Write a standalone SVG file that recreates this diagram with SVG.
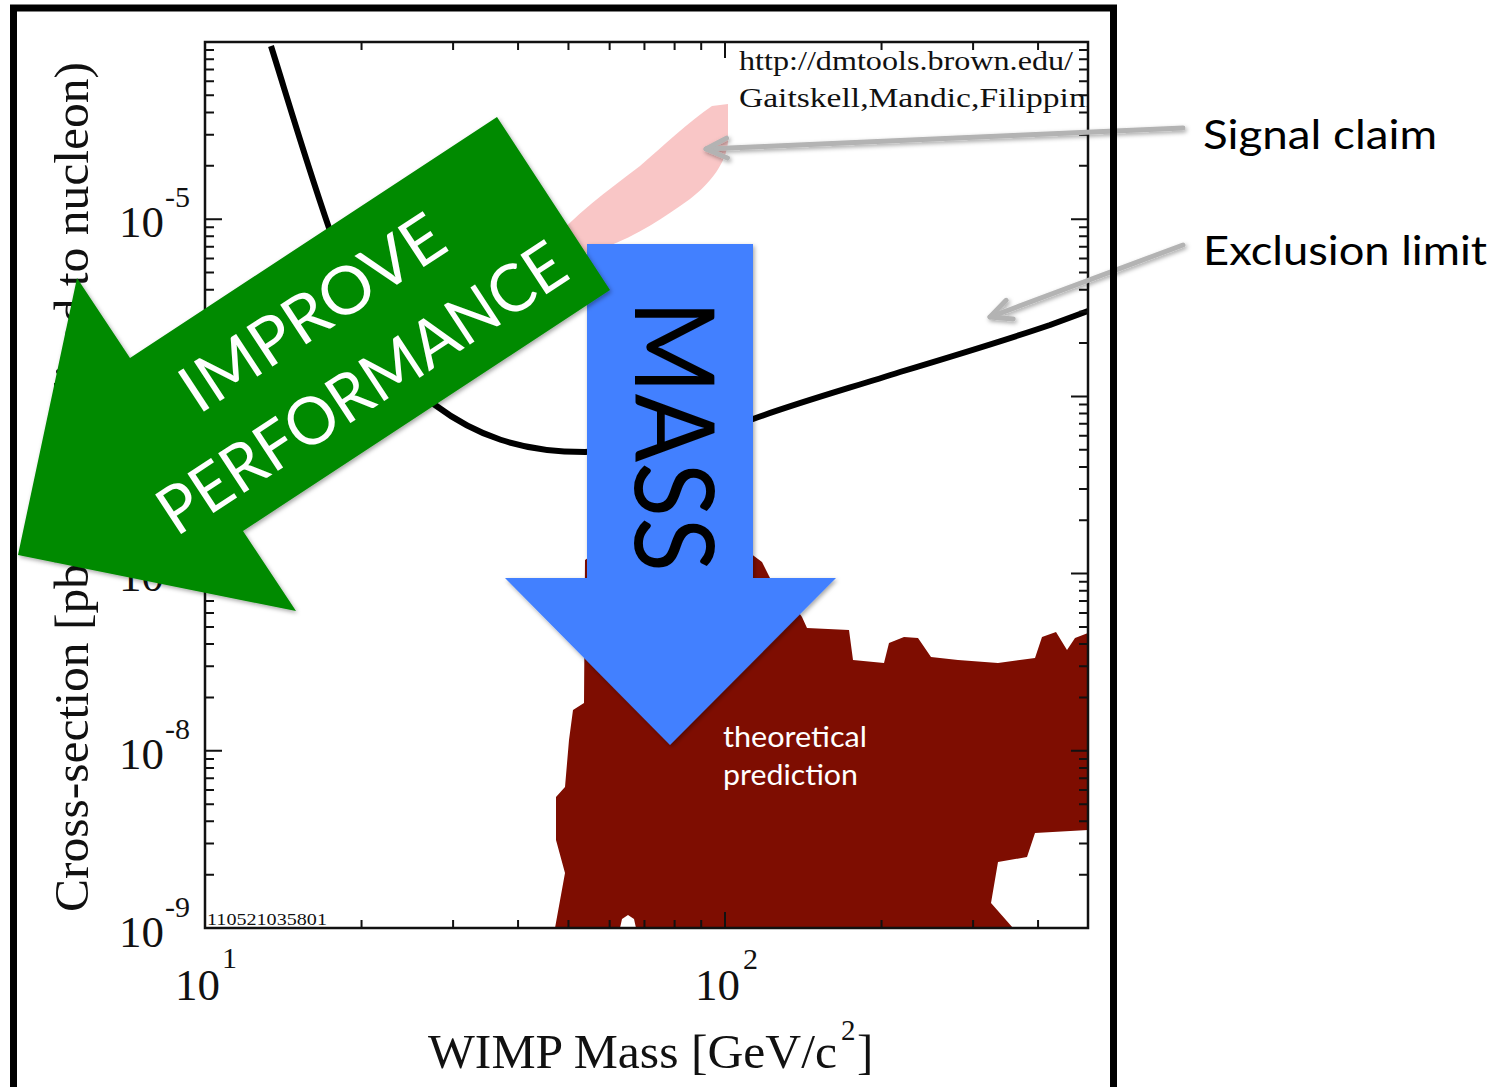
<svg xmlns="http://www.w3.org/2000/svg" xmlns:xlink="http://www.w3.org/1999/xlink" width="1506" height="1087" viewBox="0 0 1506 1087">
  <style>
    .serif { font-family: "Liberation Serif", "Times New Roman", serif; fill: #111; }
    .sans { font-family: Lato, "Open Sans", "Noto Sans", sans-serif; }
    .tick { stroke: #111; stroke-width: 2; fill: none; }
    .axis { stroke: #111; stroke-width: 2.5; fill: none; }
    .pointer { stroke: #b3b3b3; stroke-width: 5; fill: none; stroke-linecap: round; }
  </style>
  <defs>
    <clipPath id="plotArea">
      <rect x="205" y="42" width="883" height="886"/>
    </clipPath>
    <filter id="shadow" x="-10%" y="-10%" width="125%" height="125%">
      <feDropShadow dx="1.5" dy="2" stdDeviation="2" flood-color="#000" flood-opacity="0.35"/>
    </filter>
    <marker id="chevron" markerUnits="userSpaceOnUse" viewBox="-26 -16 30 32" markerWidth="30" markerHeight="32" refX="0" refY="0" orient="auto">
      <path d="M-21,-10 L0,0 L-21,10" fill="none" stroke="#b3b3b3" stroke-width="5" stroke-linecap="round" stroke-linejoin="round"/>
    </marker>
  </defs>

  <rect width="1506" height="1087" fill="#fff"/>

  <!-- WIMP exclusion plot -->
  <g id="plot">
    <!-- signal claim region -->
    <path d="M728,104 L728,142 C726,162 712,182 690,199 C665,217 636,236 606,247 L560,262 L548,246 C575,214 606,192 640,166 C664,145 690,121 712,106 Z" fill="#f9c6c6"/>
    <!-- theoretical prediction region -->
    <polygon fill="#7e0d01" points="585,560 595,553 750,553 762,562 770,578 790,600 802,617 807,628 849,630 853,660 884,663 889,643 904,637 918,638 931,657 958,660 998,663 1035,658 1042,637 1056,632 1067,650 1075,638 1088,633 1088,830 1035,833 1027,857 998,862 991,903 1013,928 636,928 634,919 628,915 622,919 620,928 555,928 565,873 556,840 556,797 565,787 569,740 573,710 584,703"/>
    <!-- exclusion limit curve -->
    <path d="M271,46 C288,100 310,175 335,245 C360,315 395,375 435,405 C475,435 520,452 585,452 L680,445 L753,419 C800,402 850,388 900,372 C950,357 1000,342 1050,325 L1088,311" fill="none" stroke="#000" stroke-width="6" stroke-linejoin="round"/>

    <!-- axes -->
    <rect class="axis" x="205" y="42" width="883" height="886"/>
    <path id="yticks" class="tick" d="M205,874.66h9M205,843.45h9M205,821.31h9M205,804.14h9M205,790.11h9M205,778.25h9M205,767.97h9M205,758.91h9M205,750.8h17M205,697.46h9M205,666.25h9M205,644.11h9M205,626.94h9M205,612.91h9M205,601.05h9M205,590.77h9M205,581.71h9M205,573.6h17M205,520.26h9M205,489.05h9M205,466.91h9M205,449.74h9M205,435.71h9M205,423.85h9M205,413.57h9M205,404.51h9M205,396.4h17M205,343.06h9M205,311.85h9M205,289.71h9M205,272.54h9M205,258.51h9M205,246.65h9M205,236.37h9M205,227.31h9M205,219.2h17M205,165.86h9M205,134.65h9M205,112.51h9M205,95.34h9M205,81.31h9M205,69.45h9M205,59.17h9M205,50.11h9"/>
    <use xlink:href="#yticks" href="#yticks" transform="matrix(-1,0,0,1,1293,0)"/>
    <path id="xticks" class="tick" d="M361.54,42v8M453.1,42v8M518.07,42v8M568.46,42v8M609.64,42v8M644.45,42v8M674.61,42v8M701.2,42v8M725,42v16M881.54,42v8M973.1,42v8M1038.07,42v8"/>
    <use xlink:href="#xticks" href="#xticks" transform="matrix(1,0,0,-1,0,970)"/>

    <!-- y tick labels -->
    <g class="serif" font-size="45">
      <text x="119" y="237">10</text>
      <text x="119" y="414">10</text>
      <text x="119" y="591">10</text>
      <text x="119" y="769">10</text>
      <text x="119" y="947">10</text>
    </g>
    <g class="serif" font-size="30">
      <text x="165" y="207">-5</text>
      <text x="165" y="384">-6</text>
      <text x="165" y="561">-7</text>
      <text x="165" y="739">-8</text>
      <text x="165" y="917">-9</text>
    </g>
    <!-- x tick labels -->
    <text class="serif" x="175" y="1000" font-size="45">10</text>
    <text class="serif" x="222" y="968" font-size="30">1</text>
    <text class="serif" x="695" y="1000" font-size="45">10</text>
    <text class="serif" x="743" y="969" font-size="30">2</text>

    <!-- axis titles -->
    <text class="serif" x="428" y="1068" font-size="49" textLength="409" lengthAdjust="spacingAndGlyphs">WIMP Mass [GeV/c</text>
    <text class="serif" x="841" y="1040" font-size="29">2</text>
    <text class="serif" x="857" y="1068" font-size="49">]</text>
    <text class="serif" font-size="49" transform="translate(88,912) rotate(-90)" textLength="850" lengthAdjust="spacingAndGlyphs">Cross-section [pb] (normalised to nucleon)</text>

    <!-- plot annotations -->
    <g clip-path="url(#plotArea)">
      <text class="serif" x="739" y="70" font-size="28" textLength="334" lengthAdjust="spacingAndGlyphs">http://dmtools.brown.edu/</text>
      <text class="serif" x="739" y="107" font-size="28" textLength="356" lengthAdjust="spacingAndGlyphs">Gaitskell,Mandic,Filippini</text>
      <text class="serif" x="207" y="925" font-size="17" textLength="120" lengthAdjust="spacingAndGlyphs">110521035801</text>
    </g>
  </g>

  <!-- downward "MASS" arrow -->
  <g id="arrow-mass">
    <polygon points="587,244 753,244 753,578 836,578 670,745 505,578 587,578" fill="#4380ff" filter="url(#shadow)"/>
    <text class="sans" font-size="110" fill="#000" transform="translate(635,300) rotate(90)" textLength="272" lengthAdjust="spacingAndGlyphs">MASS</text>
  </g>

  <!-- "IMPROVE PERFORMANCE" arrow -->
  <g id="arrow-performance">
    <polygon points="497,117 130,358 77,278 18,555 296,611 243,531 610,290" fill="#008a00" filter="url(#shadow)"/>
    <g transform="translate(370,324) rotate(-33.3)" fill="#fff" class="sans" font-size="66" text-anchor="middle">
      <text x="-42" y="-18" textLength="302" lengthAdjust="spacingAndGlyphs">IMPROVE</text>
      <text x="-42" y="72" textLength="474" lengthAdjust="spacingAndGlyphs">PERFORMANCE</text>
    </g>
  </g>

  <!-- label inside the prediction region -->
  <g id="label-theory" class="sans" fill="#fff" font-size="28">
    <text x="723" y="747" textLength="144" lengthAdjust="spacingAndGlyphs">theoretical</text>
    <text x="723" y="785" textLength="135" lengthAdjust="spacingAndGlyphs">prediction</text>
  </g>

  <!-- pointers from side labels -->
  <g id="connectors" filter="url(#shadow)">
    <line class="pointer" x1="1183" y1="128" x2="706" y2="149" marker-end="url(#chevron)"/>
    <line class="pointer" x1="1183" y1="245" x2="990" y2="317" marker-end="url(#chevron)"/>
  </g>

  <g id="label-signal">
    <text class="sans" x="1203" y="149" font-size="40" fill="#000" textLength="234" lengthAdjust="spacingAndGlyphs">Signal claim</text>
  </g>
  <g id="label-exclusion">
    <text class="sans" x="1203" y="265" font-size="40" fill="#000" textLength="284" lengthAdjust="spacingAndGlyphs">Exclusion limit</text>
  </g>

  <!-- slide frame -->
  <rect id="frame" x="13.5" y="8" width="1100" height="1100" fill="none" stroke="#000" stroke-width="7"/>
</svg>
